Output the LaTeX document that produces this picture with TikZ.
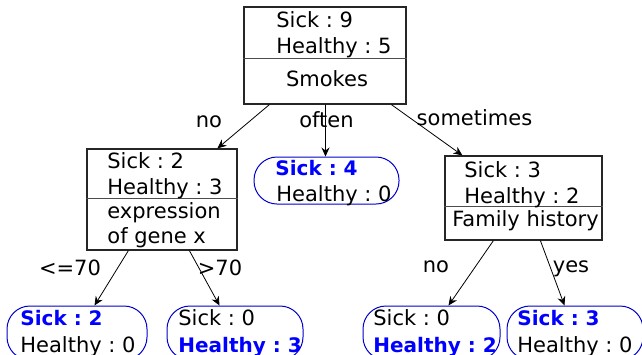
\documentclass[tikz,border=0pt]{standalone}
\usepackage{fontspec}
\setmainfont{DejaVu Sans}
\frenchspacing
\usetikzlibrary{calc,arrows.meta}
\tikzset{
	treebox/.style={draw=black!85, line width=0.6pt, inner sep=0pt},
	divider/.style={draw=black!70, line width=0.5pt},
	leaf/.style={draw=blue!80!black, line width=0.5pt, rounded corners=11.5pt, inner sep=0pt, minimum height=23.5pt},
	lowleaf/.style={leaf, minimum height=27pt},
	txt/.style={anchor=base west, inner sep=0pt},
	hit/.style={txt, text=blue, font=\bfseries},
	lbl/.style={anchor=base, inner sep=0pt},
	branch/.style={line width=0.4pt, -{Stealth[length=4.5pt, width=4pt, inset=1.5pt]}}
}
\begin{document}
\begin{tikzpicture}[x=0.5pt, y=-0.5pt, font=\fontsize{10.5}{13}\selectfont]
			\useasboundingbox (0, 0) rectangle (642, 354);
			
			%%%%% SPLIT NODES %%%%%
			
			\node[treebox, minimum width=81pt, minimum height=48.5pt] (root) at (325, 55.5) {};
			\draw[divider] ($(root.north west)+(0, 52)$) -- ($(root.north east)+(0, 52)$);
			\node[txt] (rootsick) at (276, 27) {Sick : 9};
			\node[txt] (roothealthy) at (276, 53) {Healthy : 5};
			\node[lbl] (smokes) at (327, 86) {Smokes};
			
			\node[treebox, minimum width=75pt, minimum height=50.5pt] (gene) at (162, 199.5) {};
			\draw[divider] ($(gene.north west)+(0, 50)$) -- ($(gene.north east)+(0, 50)$);
			\node[txt] (genesick) at (107, 168) {Sick : 2};
			\node[txt] (genehealthy) at (107, 194) {Healthy : 3};
			\node[txt] (genetest) at (107, 218) {expression};
			\node[txt] (genetestb) at (107, 243) {of gene x};
			
			\node[treebox, minimum width=78.5pt, minimum height=42pt] (family) at (523.5, 198) {};
			\draw[divider] ($(family.north west)+(0, 51)$) -- ($(family.north east)+(0, 51)$);
			\node[txt] (familysick) at (464, 177) {Sick : 3};
			\node[txt] (familyhealthy) at (464, 203) {Healthy : 2};
			\node[lbl] (familytest) at (525.5, 226) {Family history};
			
			%%%%% LEAVES %%%%%
			
			\node[leaf, minimum width=72.5pt] (often) at (326.5, 180.5) {};
			\node[hit] (oftensick) at (275, 175) {Sick : 4};
			\node[txt] (oftenhealthy) at (276, 201) {Healthy : 0};
			
			\node[lowleaf, minimum width=70pt] (low) at (77, 333) {};
			\node[hit] (lowsick) at (20, 325) {Sick : 2};
			\node[txt] (lowhealthy) at (20, 352) {Healthy : 0};
			
			\node[lowleaf, minimum width=68pt] (high) at (235, 333) {};
			\node[txt] (highsick) at (178, 325) {Sick : 0};
			\node[hit] (highhealthy) at (178, 352) {Healthy : 3};
			
			\node[lowleaf, minimum width=68.5pt] (nohist) at (431.5, 333) {};
			\node[txt] (nohistsick) at (373, 325) {Sick : 0};
			\node[hit] (nohisthealthy) at (373, 352) {Healthy : 2};
			
			\node[lowleaf, minimum width=68pt] (hist) at (575, 333) {};
			\node[hit] (histsick) at (517, 325) {Sick : 3};
			\node[txt] (histhealthy) at (517, 352) {Healthy : 0};
			
			%%%%% BRANCHES %%%%%
			
			\draw[branch] ($(root.south west)+(26, 0)$) -- ($(gene.north west)+(131, 0)$);
			\draw[branch] ($(root.south west)+(82, 0)$) -- ($(often.north west)+(72, 0)$);
			\draw[branch] ($(root.south west)+(148, 0)$) -- ($(family.north west)+(18, 0)$);
			\node[lbl] (lblno) at (209, 127) {no};
			\node[lbl] (lbloften) at (326.5, 127) {often};
			\node[lbl] (lblsometimes) at (474.5, 125) {sometimes};
			
			\draw[branch] ($(gene.south west)+(42, 0)$) -- ($(low.north west)+(88, 0)$);
			\draw[branch] ($(gene.south west)+(103, 0)$) -- ($(high.north west)+(53, 0)$);
			\node[lbl] (lbllow) at (70, 275) {<=70};
			\node[lbl] (lblhigh) at (220, 275) {>70};
			
			\draw[branch] ($(family.south west)+(49, 0)$) -- ($(nohist.north west)+(86, 0)$);
			\draw[branch] ($(family.south west)+(96, 0)$) -- ($(hist.north west)+(58, 0)$);
			\node[lbl] (lblnohist) at (436, 272) {no};
			\node[lbl] (lblhist) at (571, 272) {yes};
			
		\end{tikzpicture}
\end{document}
